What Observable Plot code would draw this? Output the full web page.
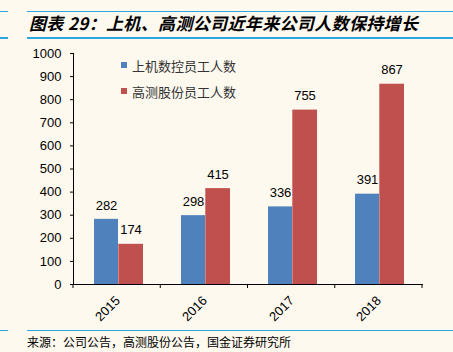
<!DOCTYPE html>
<html>
<head>
<meta charset="utf-8">
<script src="https://cdn.jsdelivr.net/npm/d3@7"></script>
<script src="https://cdn.jsdelivr.net/npm/@observablehq/plot@0.6"></script>
<style>
  html, body { margin: 0; padding: 0; background: #fdf9ef; }
  #wrap { position: relative; width: 453px; height: 352px; overflow: hidden; background: #fdf9ef; }
  #wrap svg { position: absolute; left: 0; top: 0; }
  .hl { position: absolute; height: 1.5px; background: #2ea7e0; }
  #title { position: absolute; left: 29px; top: 11px; font-family: "Noto Sans CJK SC", sans-serif; font-size: 17px; letter-spacing: 0.35px; font-weight: bold; font-style: italic; color: #000; white-space: nowrap; line-height: 24px; }
  #footer { position: absolute; left: 27px; top: 334px; font-family: "Noto Sans CJK SC", sans-serif; font-size: 12px; color: #000; white-space: nowrap; line-height: 16px; }
  .leg { position: absolute; font-family: "Noto Sans CJK SC", sans-serif; font-size: 13px; color: #333; white-space: nowrap; line-height: 16px; }
  .sw { position: absolute; width: 6px; height: 6px; }
</style>
</head>
<body>
<div id="wrap"></div>
<script>
const years = ["2015", "2016", "2017", "2018"];
const seriesNames = ["上机数控员工人数", "高测股份员工人数"];
const shangji = [282, 298, 336, 391];
const gaoce = [174, 415, 755, 867];
const yTicks = [0, 100, 200, 300, 400, 500, 600, 700, 800, 900, 1000];
const colors = ["#4f81bd", "#c0504d"];
const titleText = "图表 29：上机、高测公司近年来公司人数保持增长";
const footerText = "来源：公司公告，高测股份公告，国金证券研究所";

const dataA = years.map((y, i) => ({year: y, value: shangji[i]}));
const dataB = years.map((y, i) => ({year: y, value: gaoce[i]}));

const W = 453, H = 352;
const plot = Plot.plot({
  width: W,
  height: H,
  marginLeft: 73,
  marginRight: 31,
  marginTop: 53,
  marginBottom: 68,
  style: {background: "transparent", fontSize: "13px", fontFamily: "'Liberation Sans', Arial, sans-serif", color: "#000"},
  x: {domain: years, padding: 0, label: null, tickSize: 0, tickPadding: 14, tickRotate: -45, line: true},
  y: {domain: [0, 1000], ticks: yTicks, tickFormat: d => String(d), label: null, tickSize: 3, tickPadding: 9, line: true},
  marks: [
    Plot.barY(dataA, {x: "year", y: "value", fill: colors[0], insetLeft: 20, insetRight: 43}),
    Plot.barY(dataB, {x: "year", y: "value", fill: colors[1], insetLeft: 44.3, insetRight: 18}),
    Plot.text(dataA, {x: "year", y: "value", text: d => String(d.value), dx: -11.5, dy: -14, fill: "#000"}),
    Plot.text(dataB, {x: "year", y: "value", text: d => String(d.value), dx: 13, dy: -14, fill: "#000"}),
    Plot.ruleY([0], {stroke: "#000"})
  ]
});

const wrap = document.getElementById("wrap");
wrap.appendChild(plot);

// boundary ticks on x axis from the plot's own scales
const sx = plot.scale("x");
const sy = plot.scale("y");
const step = (sx.range[1] - sx.range[0]) / sx.domain.length;
const y0 = sy.range[0];
const svg = d3.select(plot);
const bounds = d3.range(sx.domain.length + 1).map(i => sx.range[0] + i * step);
svg.append("g").selectAll("line").data(bounds).join("line")
  .attr("x1", d => d).attr("x2", d => d)
  .attr("y1", y0).attr("y2", y0 + 4)
  .attr("stroke", "#000");

// title lines
function hline(x, y, w) {
  const d = document.createElement("div");
  d.className = "hl";
  d.style.left = x + "px"; d.style.top = y + "px"; d.style.width = w + "px";
  wrap.appendChild(d);
}
hline(0, 10.5, 8); hline(27, 10.5, W - 27);
hline(0, 37, 8); hline(27, 37, W - 27);
hline(0, 329.5, 8); hline(27, 329.5, W - 27);

const t = document.createElement("div"); t.id = "title"; t.textContent = titleText; wrap.appendChild(t);
const f = document.createElement("div"); f.id = "footer"; f.textContent = footerText; wrap.appendChild(f);

// legend
seriesNames.forEach((name, i) => {
  const top = 58 + i * 26;
  const sw = document.createElement("div");
  sw.className = "sw"; sw.style.left = "121px"; sw.style.top = (top + 4) + "px"; sw.style.background = colors[i];
  wrap.appendChild(sw);
  const lb = document.createElement("div");
  lb.className = "leg"; lb.style.left = "132px"; lb.style.top = top + "px"; lb.textContent = name;
  wrap.appendChild(lb);
});
</script>
</body>
</html>
